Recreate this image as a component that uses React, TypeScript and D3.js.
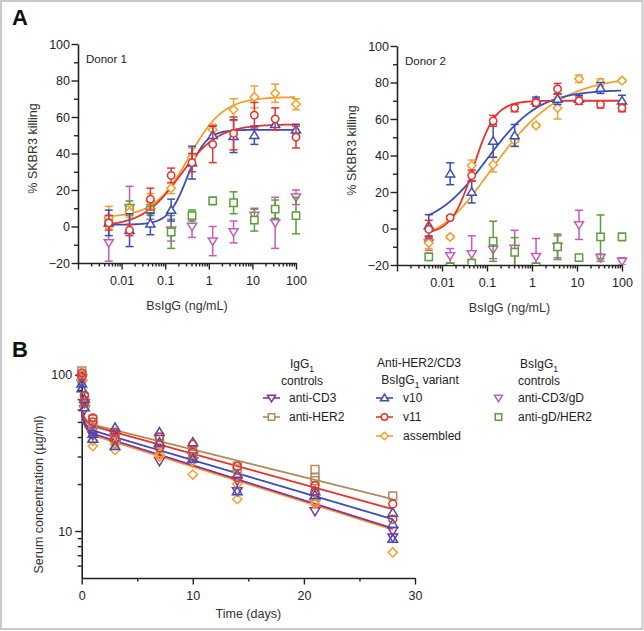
import React, { useEffect, useRef } from 'react';
import * as d3 from 'd3';

const FONT = 'Liberation Sans, Arial, Helvetica, sans-serif';

// 3-fold dilution series (ng/mL)
const doses = [0.00508, 0.0152, 0.0457, 0.137, 0.412, 1.23, 3.7, 11.1, 33.3, 100];

// Donor 1: mean % SKBR3 killing and SD
const d1V10 = [2, -2, 1.5, 9, 35, 50, 49.5, 50, 56, 53];
const d1V10Sd = [7, 9, 6, 6, 9, 5, 9, 5, 3, 3];
const d1V11 = [2, -2, 15, 28, 35, 45, 51, 61, 59, 49];
const d1V11Sd = [4, 3, 6, 4, 5, 10, 9, 7, 6, 6];
const d1Asm = [5, 8, 14, 21, 38, 53, 64, 71, 73, 67];
const d1AsmSd = [6, 3, 4, 3, 5, 3, 6, 6, 5, 3];
const d1CD3gD = [-9, 10, 8, -2, 0, -8, -3, 6, 2, 16];
const d1CD3gDSd = [10, 12, 4, 6, 6, 8, 6, 4, 14, 4];
const d1gDHER2 = [3, 10, 9, -3, 6, 14, 13, 3.5, 9.5, 6];
const d1gDHER2Sd = [3, 4, 3, 9, 3, 2, 6, 6, 5, 10];

// Donor 2
const d2V10 = [1.6, 30, 20, 48, 51, 70, 71, 71, 77, 70];
const d2V10Sd = [6, 6, 6, 9, 6, 2, 3, 2, 3, 3];
const d2V11 = [-0.5, 6, 29, 59, 66, 69, 76.5, 70, 68, 66];
const d2V11Sd = [5, 1, 3, 3, 2, 2, 3, 2, 2, 2];
const d2Asm = [-8, -4.6, 34.5, 35, 48, 56.5, 66, 82, 80, 81];
const d2AsmSd = [3, 1, 3, 4, 3, 1, 6, 2, 2, 1];
const d2CD3gD = [-8, -15, -14, -11.5, -11, -15.5, -10, 2, -16, -18];
const d2CD3gDSd = [4, 4, 10, 5, 10, 10, 6, 8, 2, 2];
const d2gDHER2 = [-15.5, -21, -19, -7, -13, -21, -10, -16, -4.6, -4.6];
const d2gDHER2Sd = [2, 2, 2, 11, 8, 2, 7, 1, 12, 2];

// curve fits, order: v10, v11, assembled
const d1FitBottom = [1, 0, 5];
const d1FitTop = [53, 56, 71];
const d1FitEc50 = [0.32, 0.22, 0.35];
const d1FitHill = [2, 1, 1.1];
const d1FitAsym = [1, 1, 1];
const d2FitBottom = [0, -3, -6];
const d2FitTop = [76, 70, 84];
const d2FitEc50 = [0.1, 0.05, 0.00707];
const d2FitHill = [0.75, 1.8, 0.5];
const d2FitAsym = [1, 1, 4];

// PK: sampling days and serum concentration (ug/ml) per animal
const pkDays = [0.01, 0.25, 1, 3, 7, 10, 14, 21, 28];
const pkAntiCD3 = [[95, 88], [66, 60], [44, 41], [40, 36], [33, 28], [30, 28], [21, 18], [15, 13.4], [9.1, 10]];
const pkAntiHER2 = [[106, 100], [72, 68], [52, 48], [42, 38], [40, 36], [33, 31], [26, 25], [24.8, 22, 21], [16.8]];
const pkV10 = [[88, 82], [70, 62], [42, 39], [46, 35], [43, 37], [37, 29], [23, 18], [18, 17], [13.1, 11.1, 8.9]];
const pkV11 = [[103, 98], [74, 66], [53, 50], [43, 39], [40, 34], [36, 32], [26, 22], [19.5, 18], [14.9, 11.9]];
const pkAssembled = [[92], [62], [38, 35], [36, 33], [31, 30], [28, 23], [20, 16], [15.5, 14.9], [7.3]];

// two-compartment fits, order: anti-CD3, anti-HER2, v10, v11, assembled
const pkFitC0 = [56, 60, 58, 60, 55];
const pkFitC1 = [42, 48, 44, 47, 41];
const pkFitC28 = [10.4, 16, 11.9, 13.8, 10.2];

const C = {
  blue: '#3a4db8',
  red: '#e6332d',
  orange: '#f5a02e',
  magenta: '#c55cb8',
  green: '#5b9e3b',
  purple: '#8a2f9e',
  brown: '#b38a5c',
  ink: '#222',
};

function markerPath(shape: string, s: number) {
  if (shape === 'up') return `M0,${-s}L${s * 1.05},${s * 0.75}L${-s * 1.05},${s * 0.75}Z`;
  if (shape === 'down') return `M0,${s}L${s * 1.05},${-s * 0.75}L${-s * 1.05},${-s * 0.75}Z`;
  if (shape === 'square') return `M${-s * 0.85},${-s * 0.85}H${s * 0.85}V${s * 0.85}H${-s * 0.85}Z`;
  if (shape === 'diamond') return `M0,${-s}L${s},0L0,${s}L${-s},0Z`;
  const r = s * 0.85;
  return `M${r},0A${r},${r} 0 1,1 ${-r},0A${r},${r} 0 1,1 ${r},0Z`;
}

function fiveParam(x: number, b: number, t: number, ec: number, h: number, s: number) {
  return b + (t - b) / Math.pow(1 + Math.pow(ec / x, h), s);
}

let clipCount = 0;

function styleAxis(sel: any, fontSize: number) {
  sel.select('.domain').attr('stroke', C.ink).attr('stroke-width', 1.6);
  sel.selectAll('.tick line').attr('stroke', C.ink).attr('stroke-width', 1.4);
  sel.selectAll('.tick text').attr('fill', C.ink).attr('font-size', fontSize).attr('font-family', FONT);
}

function drawDose(svg: any, cfg: any) {
  const { x0, x1, yTop, yBot, label, series, fits } = cfg;
  const x = d3.scaleLog().domain([0.001, 100]).range([x0, x1]);
  const y = d3.scaleLinear().domain([-20, 100]).range([yBot, yTop]);
  const g = svg.append('g');

  const clipId = `clip${clipCount++}`;
  g.append('clipPath').attr('id', clipId)
    .append('rect').attr('x', x0).attr('y', yTop - 20).attr('width', x1 - x0 + 15).attr('height', yBot - yTop + 20);

  // axes
  const majorX = [0.001, 0.01, 0.1, 1, 10, 100];
  const minorX: number[] = [];
  majorX.slice(0, -1).forEach(d => { for (let k = 2; k <= 9; k++) minorX.push(d * k); });
  g.append('g').attr('transform', `translate(0,${yBot})`)
    .call(d3.axisBottom(x).tickValues(minorX).tickSize(3.5).tickSizeOuter(0).tickFormat(() => ''))
    .call((s: any) => { styleAxis(s, 12); s.select('.domain').remove(); });
  g.append('g').attr('transform', `translate(0,${yBot})`)
    .call(d3.axisBottom(x).tickValues(majorX).tickSize(6.5).tickPadding(7).tickSizeOuter(0)
      .tickFormat((d: any) => (d < 0.005 ? '' : String(d))))
    .call((s: any) => styleAxis(s, 12.5));

  g.append('g').attr('transform', `translate(${x0},0)`)
    .call(d3.axisLeft(y).tickValues(d3.range(-10, 100, 20)).tickSize(4).tickSizeOuter(0).tickFormat(() => ''))
    .call((s: any) => { styleAxis(s, 12); s.select('.domain').remove(); });
  g.append('g').attr('transform', `translate(${x0},0)`)
    .call(d3.axisLeft(y).tickValues(d3.range(-20, 101, 20)).tickSize(6.5).tickPadding(1.5).tickSizeOuter(0))
    .call((s: any) => styleAxis(s, 12.5));

  g.append('text').attr('x', x0 + 8).attr('y', yTop + 19).attr('font-family', FONT)
    .attr('font-size', 11.5).attr('fill', C.ink).text(label);

  g.append('text').attr('transform', `translate(${x0 - 41},${(yTop + yBot) / 2 - 5}) rotate(-90)`)
    .attr('text-anchor', 'middle').attr('font-family', FONT).attr('font-size', 12.5).attr('fill', '#333')
    .text('% SKBR3 killing');
  g.append('text').attr('x', (x0 + x1) / 2).attr('y', yBot + 47).attr('text-anchor', 'middle')
    .attr('font-family', FONT).attr('font-size', 12.5).attr('fill', '#333').text('BsIgG (ng/mL)');

  const plot = g.append('g').attr('clip-path', `url(#${clipId})`);

  // fitted curves
  const xs = d3.range(Math.log10(0.0048), 2.0001, 0.02).map(v => Math.pow(10, v));
  const line = d3.line<number[]>().x(d => x(d[0])).y(d => y(d[1]));
  fits.forEach((f: any) => {
    plot.append('path')
      .datum(xs.map(v => [v, fiveParam(v, f.bottom, f.top, f.ec50, f.hill, f.asym)]))
      .attr('fill', 'none').attr('stroke', f.color).attr('stroke-width', 1.8).attr('d', line);
  });

  // points with SD
  series.forEach((s: any) => {
    const sg = plot.append('g').attr('stroke', s.color).attr('stroke-width', 1.5);
    doses.forEach((d, i) => {
      const m = s.mean[i];
      const sd = s.sd[i];
      const cx = x(d);
      const yHi = y(m + sd);
      const yLo = y(m - sd);
      sg.append('line').attr('x1', cx).attr('x2', cx).attr('y1', yHi).attr('y2', yLo);
      sg.append('line').attr('x1', cx - 4).attr('x2', cx + 4).attr('y1', yHi).attr('y2', yHi);
      sg.append('line').attr('x1', cx - 4).attr('x2', cx + 4).attr('y1', yLo).attr('y2', yLo);
      sg.append('path').attr('transform', `translate(${cx},${y(m)})`)
        .attr('d', markerPath(s.shape, 4.3)).attr('fill', 'white');
    });
  });
}

function drawPk(svg: any) {
  const x0 = 81.7, x1 = 415, yTop = 371, yBot = 578;
  const x = d3.scaleLinear().domain([0, 30]).range([x0, x1]);
  const y = d3.scaleLog().domain([5, 106]).range([yBot, yTop]);
  const g = svg.append('g');

  g.append('g').attr('transform', `translate(0,${yBot})`)
    .call(d3.axisBottom(x).tickValues([5, 15, 25]).tickSize(3.5).tickSizeOuter(0).tickFormat(() => ''))
    .call((s: any) => { styleAxis(s, 12); s.select('.domain').remove(); });
  g.append('g').attr('transform', `translate(0,${yBot})`)
    .call(d3.axisBottom(x).tickValues([0, 10, 20, 30]).tickSize(6.5).tickPadding(7).tickSizeOuter(0))
    .call((s: any) => styleAxis(s, 12.5));
  g.append('g').attr('transform', `translate(${x0},0)`)
    .call(d3.axisLeft(y).tickValues([6, 7, 8, 9, 20, 30, 40, 50, 60, 70, 80, 90]).tickSize(4).tickSizeOuter(0).tickFormat(() => ''))
    .call((s: any) => { styleAxis(s, 12); s.select('.domain').remove(); });
  g.append('g').attr('transform', `translate(${x0},0)`)
    .call(d3.axisLeft(y).tickValues([10, 100]).tickSize(6.5).tickPadding(3).tickSizeOuter(0).tickFormat((d: any) => String(d)))
    .call((s: any) => styleAxis(s, 12.5));

  g.append('text').attr('transform', `translate(${x0 - 39},${(yTop + yBot) / 2 + 20}) rotate(-90)`)
    .attr('text-anchor', 'middle').attr('font-family', FONT).attr('font-size', 12.5).attr('fill', '#333')
    .text('Serum concentration (µg/ml)');
  g.append('text').attr('x', (x0 + x1) / 2).attr('y', yBot + 40).attr('text-anchor', 'middle')
    .attr('font-family', FONT).attr('font-size', 12.5).attr('fill', '#333').text('Time (days)');

  const series = [
    { data: pkAntiCD3, color: C.purple, shape: 'down' },
    { data: pkAntiHER2, color: C.brown, shape: 'square' },
    { data: pkV10, color: C.blue, shape: 'up' },
    { data: pkV11, color: C.red, shape: 'circle' },
    { data: pkAssembled, color: C.orange, shape: 'diamond' },
  ];

  const ts = d3.range(0, 28.001, 0.05);
  const line = d3.line<number[]>().x(d => x(d[0])).y(d => y(d[1]));
  const fitOrder = [4, 0, 2, 1, 3];
  fitOrder.forEach(i => {
    const beta = Math.log(pkFitC1[i] / pkFitC28[i]) / 27;
    const B = pkFitC1[i] * Math.exp(beta);
    const A = pkFitC0[i] - B;
    g.append('path')
      .datum(ts.map(t => [t, A * Math.exp(-3.5 * t) + B * Math.exp(-beta * t)]))
      .attr('fill', 'none').attr('stroke', series[i].color).attr('stroke-width', 1.8).attr('d', line);
  });

  [0, 1, 4, 2, 3].forEach(i => {
    const s = series[i];
    const sg = g.append('g').attr('stroke', s.color).attr('stroke-width', 1.5).attr('fill', 'none');
    s.data.forEach((vals, j) => {
      vals.forEach(v => {
        sg.append('path').attr('transform', `translate(${x(pkDays[j])},${y(v)})`)
          .attr('d', markerPath(s.shape, 4.6));
      });
    });
  });

  // legend
  const lg = g.append('g').attr('font-family', FONT).attr('font-size', 12).attr('fill', C.ink);
  const subLabel = (cx: number, yy: number, pre: string, post: string) => {
    const t = lg.append('text').attr('x', cx).attr('y', yy).attr('text-anchor', 'middle');
    t.append('tspan').text(pre);
    t.append('tspan').attr('font-size', 8.5).attr('dy', 3.5).text('1');
    if (post) t.append('tspan').attr('dy', -3.5).text(post);
  };
  subLabel(302, 368, 'IgG', '');
  lg.append('text').attr('x', 302).attr('y', 385).attr('text-anchor', 'middle').text('controls');
  lg.append('text').attr('x', 419).attr('y', 367).attr('text-anchor', 'middle').text('Anti-HER2/CD3');
  subLabel(420, 384, 'BsIgG', ' variant');
  subLabel(539, 368, 'BsIgG', '');
  lg.append('text').attr('x', 539).attr('y', 385).attr('text-anchor', 'middle').text('controls');

  const entries = [
    { lx: 263, tx: 289, yy: 398, s: series[0], name: 'anti-CD3', withLine: true },
    { lx: 263, tx: 289, yy: 417, s: series[1], name: 'anti-HER2', withLine: true },
    { lx: 376, tx: 403, yy: 398, s: series[2], name: 'v10', withLine: true },
    { lx: 376, tx: 403, yy: 417, s: series[3], name: 'v11', withLine: true },
    { lx: 376, tx: 403, yy: 436, s: series[4], name: 'assembled', withLine: true },
    { lx: 490, tx: 518, yy: 398, s: { color: C.magenta, shape: 'down' }, name: 'anti-CD3/gD', withLine: false },
    { lx: 490, tx: 518, yy: 417, s: { color: C.green, shape: 'square' }, name: 'anti-gD/HER2', withLine: false },
  ];
  entries.forEach(e => {
    if (e.withLine) {
      lg.append('line').attr('x1', e.lx).attr('x2', e.lx + 17).attr('y1', e.yy).attr('y2', e.yy)
        .attr('stroke', e.s.color).attr('stroke-width', 1.6);
    }
    lg.append('path').attr('transform', `translate(${e.lx + 8.5},${e.yy})`)
      .attr('d', markerPath(e.s.shape, 3.8)).attr('fill', 'white')
      .attr('stroke', e.s.color).attr('stroke-width', 1.5);
    lg.append('text').attr('x', e.tx).attr('y', e.yy + 4).text(e.name);
  });
}

export default function App() {
  const ref = useRef<SVGSVGElement>(null);

  useEffect(() => {
    const svg = d3.select(ref.current);
    svg.selectAll('*').remove();
    clipCount = 0;

    svg.append('rect').attr('x', 0).attr('y', 0).attr('width', 644).attr('height', 631).attr('fill', 'white');
    svg.append('rect').attr('x', 1).attr('y', 1).attr('width', 641.5).attr('height', 628)
      .attr('fill', 'none').attr('stroke', '#c9c9c9').attr('stroke-width', 2);

    const fitsFor = (b: number[], t: number[], ec: number[], h: number[], a: number[]) =>
      [C.blue, C.red, C.orange].map((color, i) => ({ color, bottom: b[i], top: t[i], ec50: ec[i], hill: h[i], asym: a[i] }));

    drawDose(svg, {
      x0: 78, x1: 296, yTop: 44, yBot: 263, label: 'Donor 1',
      fits: [2, 0, 1].map(i => fitsFor(d1FitBottom, d1FitTop, d1FitEc50, d1FitHill, d1FitAsym)[i]),
      series: [
        { mean: d1CD3gD, sd: d1CD3gDSd, color: C.magenta, shape: 'down' },
        { mean: d1gDHER2, sd: d1gDHER2Sd, color: C.green, shape: 'square' },
        { mean: d1Asm, sd: d1AsmSd, color: C.orange, shape: 'diamond' },
        { mean: d1V10, sd: d1V10Sd, color: C.blue, shape: 'up' },
        { mean: d1V11, sd: d1V11Sd, color: C.red, shape: 'circle' },
      ],
    });
    drawDose(svg, {
      x0: 397, x1: 622, yTop: 46, yBot: 265, label: 'Donor 2',
      fits: [2, 0, 1].map(i => fitsFor(d2FitBottom, d2FitTop, d2FitEc50, d2FitHill, d2FitAsym)[i]),
      series: [
        { mean: d2CD3gD, sd: d2CD3gDSd, color: C.magenta, shape: 'down' },
        { mean: d2gDHER2, sd: d2gDHER2Sd, color: C.green, shape: 'square' },
        { mean: d2Asm, sd: d2AsmSd, color: C.orange, shape: 'diamond' },
        { mean: d2V10, sd: d2V10Sd, color: C.blue, shape: 'up' },
        { mean: d2V11, sd: d2V11Sd, color: C.red, shape: 'circle' },
      ],
    });
    drawPk(svg);

    svg.append('text').attr('x', 12).attr('y', 25).attr('font-family', FONT).attr('font-weight', 'bold')
      .attr('font-size', 22).attr('fill', '#111').text('A');
    svg.append('text').attr('x', 12).attr('y', 357).attr('font-family', FONT).attr('font-weight', 'bold')
      .attr('font-size', 22).attr('fill', '#111').text('B');
  }, []);

  return (
    <div style={{ position: 'absolute', left: 0, top: 0 }}>
      <svg ref={ref} width={644} height={631} style={{ display: 'block' }}></svg>
    </div>
  );
}
